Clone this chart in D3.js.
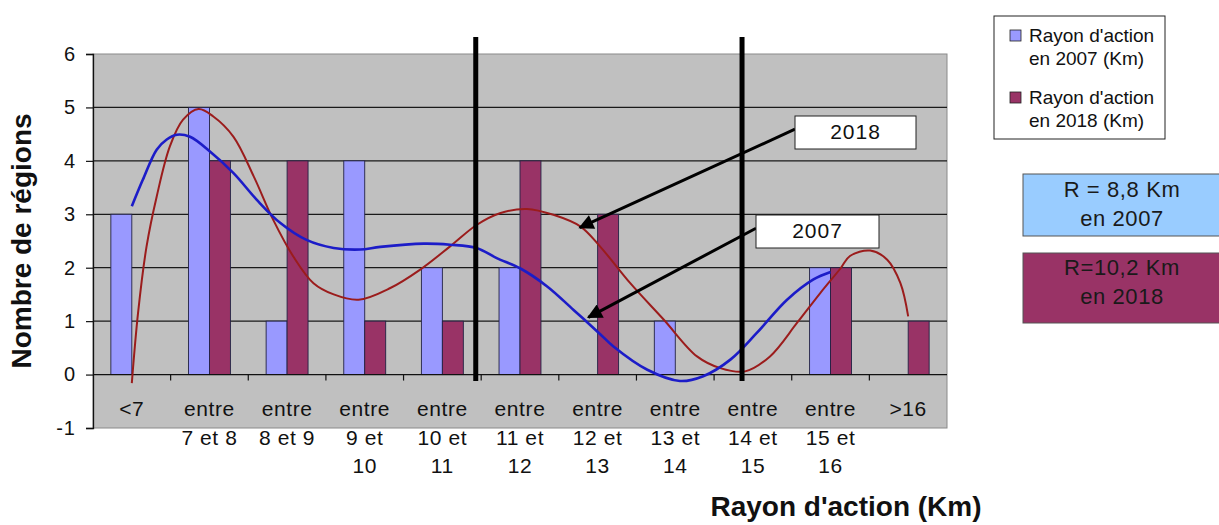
<!DOCTYPE html>
<html><head><meta charset="utf-8">
<script src="https://cdn.jsdelivr.net/npm/d3@7"></script>
<style>html,body{margin:0;padding:0;background:#fff;}svg{display:block;font-family:"Liberation Sans",Arial,sans-serif;}</style>
</head><body>
<svg id="chart" width="1219" height="525"></svg>
<script>
// ---- data ----
const categories = ["<7","entre 7 et 8","entre 8 et 9","entre 9 et 10","entre 10 et 11","entre 11 et 12","entre 12 et 13","entre 13 et 14","entre 14 et 15","entre 15 et 16",">16"];
const categoryLines = [["<7"],["entre","7 et 8"],["entre","8 et 9"],["entre","9 et","10"],["entre","10 et","11"],["entre","11 et","12"],["entre","12 et","13"],["entre","13 et","14"],["entre","14 et","15"],["entre","15 et","16"],[">16"]];
const values2007 = [3,5,1,4,2,2,0,1,0,2,0];
const values2018 = [0,4,4,1,1,4,3,0,0,2,1];
const seriesNames = [["Rayon d'action","en 2007 (Km)"],["Rayon d'action","en 2018 (Km)"]];
const yTicks = [-1,0,1,2,3,4,5,6];
// trend curves: [category position (1..11), value]
const trend2007 = [[1.0,3.15],[1.14,3.64],[1.32,4.21],[1.45,4.40],[1.58,4.49],[1.75,4.45],[2.01,4.17],[2.31,3.77],[2.61,3.27],[2.91,2.84],[3.25,2.52],[3.6,2.37],[3.94,2.34],[4.2,2.39],[4.76,2.45],[5.1,2.43],[5.44,2.37],[5.7,2.18],[6.0,1.99],[6.35,1.65],[6.69,1.21],[7.03,0.76],[7.2,0.53],[7.64,0.09],[8.06,-0.12],[8.36,-0.03],[8.71,0.28],[9.05,0.78],[9.44,1.40],[9.78,1.78],[10.0,1.92]];
const trend2018 = [[1.0,-0.16],[1.08,1.15],[1.19,2.40],[1.32,3.33],[1.49,4.27],[1.66,4.77],[1.86,4.97],[2.05,4.83],[2.31,4.45],[2.57,3.71],[2.82,2.90],[3.08,2.21],[3.34,1.71],[3.6,1.50],[3.92,1.40],[4.33,1.62],[4.71,1.96],[5.1,2.40],[5.44,2.80],[5.74,3.02],[6.09,3.10],[6.43,2.99],[6.78,2.77],[7.03,2.40],[7.42,1.71],[7.85,1.03],[8.28,0.34],[8.58,0.12],[8.9,0.06],[9.22,0.34],[9.57,0.97],[9.87,1.53],[10.13,1.99],[10.25,2.22],[10.51,2.32],[10.73,2.15],[10.9,1.71],[11.0,1.09]];
const markerPositions = [5.43, 8.86];
const annotations = [{label:"2018", tip:[6.77,2.75]},{label:"2007", tip:[6.88,1.07]}];
const radiusTexts = [["R = 8,8 Km","en 2007"],["R=10,2 Km","en 2018"]];

// ---- layout ----
const svg = d3.select("#chart");
const L = 93, R = 947, T = 54, B = 428;
const colors = ["#9999ff","#993366"];
const x0 = d3.scaleBand().domain(categories).range([L,R]).paddingInner(0.46).paddingOuter(0.23);
const x1 = d3.scaleBand().domain([0,1]).range([0,x0.bandwidth()]);
const xPos = d3.scaleLinear().domain([0.5,11.5]).range([L,R]);
const y = d3.scaleLinear().domain([-1,6]).range([B,T]);

// plot background
svg.append("rect").attr("x",L).attr("y",T).attr("width",R-L).attr("height",B-T)
  .attr("fill","#c0c0c0").attr("stroke","#8a8a8a").attr("stroke-width",1);

// gridlines
svg.append("g").selectAll("line").data(yTicks.filter(d=>d>0 && d<6)).join("line")
  .attr("x1",L).attr("x2",R).attr("y1",d=>y(d)).attr("y2",d=>y(d))
  .attr("stroke","#1a1a1a").attr("stroke-width",1.3);

// bars
const series = [values2007, values2018];
series.forEach((vals,si)=>{
  svg.append("g").selectAll("rect").data(vals.map((v,i)=>({v,c:categories[i]})).filter(d=>d.v!==0)).join("rect")
    .attr("x",d=>x0(d.c)+x1(si)).attr("width",x1.bandwidth())
    .attr("y",d=>y(d.v)).attr("height",d=>y(0)-y(d.v))
    .attr("fill",colors[si]).attr("stroke","#222244").attr("stroke-width",0.9);
});

// x axis line at 0
svg.append("line").attr("x1",L).attr("x2",R).attr("y1",y(0)).attr("y2",y(0)).attr("stroke","#111").attr("stroke-width",1.3);
const bounds = d3.range(1,categories.length).map(i=>i+0.5);
svg.append("g").selectAll("line").data(bounds).join("line")
  .attr("x1",d=>xPos(d)).attr("x2",d=>xPos(d)).attr("y1",y(0)).attr("y2",y(0)+6)
  .attr("stroke","#111").attr("stroke-width",1.2);

// y axis
const yAxis = svg.append("g").attr("transform",`translate(${L},0)`)
  .call(d3.axisLeft(y).tickValues(yTicks).tickSize(7).tickPadding(10).tickFormat(d=>String(d)));
yAxis.select(".domain").attr("stroke","#111").attr("stroke-width",1.3);
yAxis.selectAll(".tick line").attr("stroke","#111").attr("stroke-width",1.2);
yAxis.selectAll(".tick text").attr("font-size",20).attr("fill","#111").attr("font-family","Liberation Sans, Arial, sans-serif").attr("letter-spacing",1);

// category labels
const lab = svg.append("g");
categoryLines.forEach((lines,i)=>{
  const cx = xPos(i+1);
  lines.forEach((t,j)=>{
    lab.append("text").attr("x",cx).attr("y",416+j*28.5).attr("text-anchor","middle")
      .attr("font-size",21).attr("letter-spacing",0.6).attr("fill","#111").text(t);
  });
});

// trend lines
const line = d3.line().x(d=>xPos(d[0])).y(d=>y(d[1])).curve(d3.curveCatmullRom.alpha(0.5));
svg.append("path").attr("d",line(trend2018)).attr("fill","none").attr("stroke","#9b1c1c").attr("stroke-width",2);
svg.append("path").attr("d",line(trend2007)).attr("fill","none").attr("stroke","#1c1cc8").attr("stroke-width",2.6);

// thick vertical markers
svg.append("g").selectAll("line").data(markerPositions).join("line")
  .attr("x1",d=>xPos(d)).attr("x2",d=>xPos(d)).attr("y1",37).attr("y2",381)
  .attr("stroke","#000").attr("stroke-width",5);

// arrows + annotation boxes
const defs = svg.append("defs");
defs.append("marker").attr("id","ah").attr("viewBox","0 0 10 10").attr("refX",9).attr("refY",5)
  .attr("markerWidth",6).attr("markerHeight",5).attr("orient","auto").attr("markerUnits","strokeWidth")
  .append("path").attr("d","M0,0 L10,5 L0,10 z").attr("fill","#000");
const boxes = [{x:795,y:116,w:121,h:33},{x:756,y:215,w:123,h:33}];
annotations.forEach((a,i)=>{
  const b = boxes[i];
  svg.append("line").attr("x1",b.x).attr("y1",b.y+b.h*0.4).attr("x2",xPos(a.tip[0])).attr("y2",y(a.tip[1]))
    .attr("stroke","#000").attr("stroke-width",3).attr("marker-end","url(#ah)");
  svg.append("rect").attr("x",b.x).attr("y",b.y).attr("width",b.w).attr("height",b.h)
    .attr("fill","#fff").attr("stroke","#222").attr("stroke-width",1);
  svg.append("text").attr("x",b.x+b.w/2).attr("y",b.y+23).attr("text-anchor","middle")
    .attr("font-size",21).attr("letter-spacing",1).attr("fill","#111").text(a.label);
});

// axis titles
svg.append("text").attr("transform","translate(31,241) rotate(-90)").attr("text-anchor","middle")
  .attr("font-size",28).attr("font-weight","bold").attr("fill","#111").text("Nombre de régions");
svg.append("text").attr("x",846).attr("y",516).attr("text-anchor","middle")
  .attr("font-size",28).attr("font-weight","bold").attr("fill","#111").text("Rayon d'action (Km)");

// legend
const lg = svg.append("g");
lg.append("rect").attr("x",994).attr("y",16).attr("width",171).attr("height",123).attr("fill","#fff").attr("stroke","#222").attr("stroke-width",1);
seriesNames.forEach((n,i)=>{
  const yy = 30 + i*62;
  lg.append("rect").attr("x",1010).attr("y",yy).attr("width",11).attr("height",11).attr("fill",colors[i]).attr("stroke","#222").attr("stroke-width",0.8);
  lg.append("text").attr("x",1029).attr("y",yy+12).attr("font-size",19).attr("fill","#111").text(n[0]);
  lg.append("text").attr("x",1029).attr("y",yy+35).attr("font-size",19).attr("fill","#111").text(n[1]);
});

// radius boxes
const rb = [{y:174,h:62,fill:"#99ccff",ty:197},{y:253,h:70,fill:"#993366",ty:275}];
radiusTexts.forEach((t,i)=>{
  svg.append("rect").attr("x",1023).attr("y",rb[i].y).attr("width",200).attr("height",rb[i].h)
    .attr("fill",rb[i].fill).attr("stroke","#555").attr("stroke-width",1);
  t.forEach((s,j)=>{
    svg.append("text").attr("x",1122).attr("y",rb[i].ty+j*28.5).attr("text-anchor","middle")
      .attr("font-size",22).attr("letter-spacing",0.6).attr("fill","#1a1a1a").text(s);
  });
});
</script>
</body></html>
